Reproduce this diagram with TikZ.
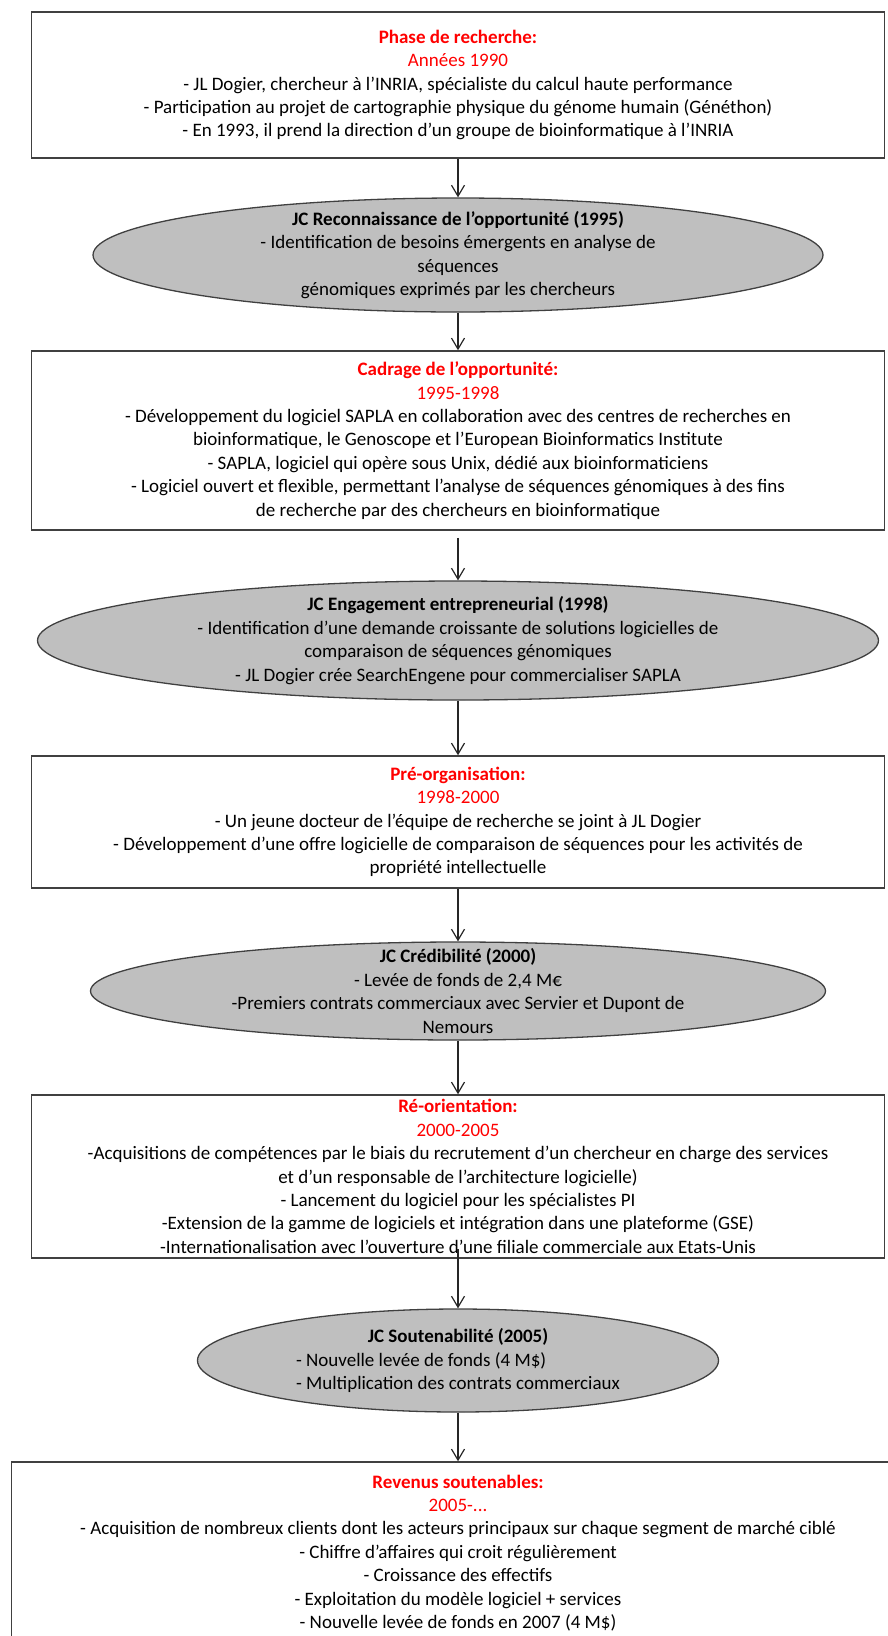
\documentclass[tikz,border=0pt]{standalone}
\usepackage{fontspec}
\setmainfont{Carlito}
\usepackage{tikz}
\usetikzlibrary{shapes.geometric,arrows.meta}

\newcommand{\phasetitle}[1]{\textcolor{red}{\bfseries #1}}
\newcommand{\phaseyear}[1]{\textcolor{red}{#1}}

\begin{document}
\begin{tikzpicture}[x=1pt,y=-1pt]
% Diagram style
\tikzset{
    phase/.style={rectangle,draw=black!75,line width=1.5pt,inner sep=0pt,
        minimum width=853pt,align=center,font=\fontsize{19}{23.4}\selectfont},
    jalon/.style={ellipse,draw=black!75,line width=1.3pt,fill=black!25,inner sep=0pt},
    jctext/.style={align=center,font=\fontsize{19}{23.4}\selectfont},
    link/.style={-{Straight Barb[length=11pt,width=13pt]},line width=1.2pt,draw=black!85}
}
\useasboundingbox (0,0) rectangle (887,1636);
% Phases
\node[phase,minimum height=146pt] (PHa) at (458,85){\phasetitle{Phase de recherche:}\\
    \phaseyear{Années 1990}\\
    - JL Dogier, chercheur à l'INRIA,  spécialiste du calcul haute performance\\
    - Participation au projet de cartographie physique du génome humain (Généthon)\\
    - En 1993, il prend la direction d'un groupe de bioinformatique à l'INRIA};
\node[phase,minimum height=179pt] (PHb) at (458,440.5){\phasetitle{Cadrage de l'opportunité:}\\
    \phaseyear{1995-1998}\\
    - Développement du logiciel SAPLA en collaboration avec des centres de recherches en\\
    bioinformatique, le Genoscope et l'European Bioinformatics Institute\\
    - SAPLA, logiciel qui opère sous Unix, dédié aux bioinformaticiens\\
    - Logiciel ouvert et flexible, permettant l'analyse de séquences génomiques à des fins\\
    de recherche par des chercheurs en bioinformatique};
\node[phase,minimum height=132pt] (PHc) at (458,822){\phasetitle{Pré-organisation:}\\
    \phaseyear{1998-2000}\\
    - Un jeune docteur de l'équipe de recherche se joint à JL Dogier\\
    - Développement d'une offre logicielle de comparaison de séquences pour les activités de\\
    propriété intellectuelle};
\node[phase,minimum height=163pt] (PHd) at (458,1176.5){\phasetitle{Ré-orientation:}\\
    \phaseyear{2000-2005}\\
    -Acquisitions de compétences par le biais du recrutement d'un chercheur en charge des services\\
    et d'un responsable de l'architecture logicielle)\\
    - Lancement du logiciel pour les spécialistes PI\\
    -Extension de la gamme de logiciels et intégration dans une plateforme (GSE)\\
    -Internationalisation  avec l'ouverture d'une filiale commerciale aux Etats-Unis};
\node[phase,minimum width=893pt,minimum height=182pt] (PHe) at (458,1553){\phasetitle{Revenus soutenables:}\\
    \phaseyear{2005-...}\\
    - Acquisition de nombreux clients dont les acteurs principaux sur chaque segment de marché ciblé\\
    - Chiffre d'affaires qui croit régulièrement\\
    - Croissance des effectifs\\
    - Exploitation  du modèle logiciel + services\\
    - Nouvelle levée de fonds en 2007 (4 M\$)};
% Critical junctures
\node[jalon,minimum width=730pt,minimum height=114pt,
    label={[jctext]center:{\textbf{JC Reconnaissance  de l'opportunité (1995)}\\
    - Identification de besoins émergents en analyse de\\
    séquences\\
    génomiques exprimés par les chercheurs}}] (JCa) at (458,255){};
\node[jalon,minimum width=841pt,minimum height=119pt,
    label={[jctext]center:{\textbf{JC Engagement  entrepreneurial (1998)}\\
    - Identification d'une demande croissante de solutions  logicielles de\\
    comparaison de séquences génomiques\\
    - JL Dogier crée SearchEngene pour commercialiser SAPLA}}] (JCb) at (458,640.5){};
\node[jalon,minimum width=735pt,minimum height=98pt,
    label={[jctext]center:{\textbf{JC Crédibilité (2000)}\\
    - Levée de fonds de 2,4 M€\\
    -Premiers contrats commerciaux avec Servier et Dupont de\\
    Nemours}}] (JCc) at (458,991){};
\node[jalon,minimum width=521pt,minimum height=103pt,
    label={[jctext]center:{\textbf{JC Soutenabilité (2005)}\\
    \rlap{- Nouvelle levée de fonds (4 M\$)}\phantom{- Multiplication  des contrats commerciaux}\\
    - Multiplication  des contrats commerciaux}}] (JCd) at (458,1360.5){};
% Connection
\draw[link] (PHa.south) -- (JCa.north);
\draw[link] (JCa.south) -- (PHb.north);
\draw[link,shorten <=7pt] (PHb.south) -- (JCb.north);
\draw[link] (JCb.south) -- (PHc.north);
\draw[link] (PHc.south) -- (JCc.north);
\draw[link] (JCc.south) -- (PHd.north);
\draw[link,shorten <=-10pt] (PHd.south) -- (JCd.north);
\draw[link] (JCd.south) -- (PHe.north);
\end{tikzpicture}
\end{document}
